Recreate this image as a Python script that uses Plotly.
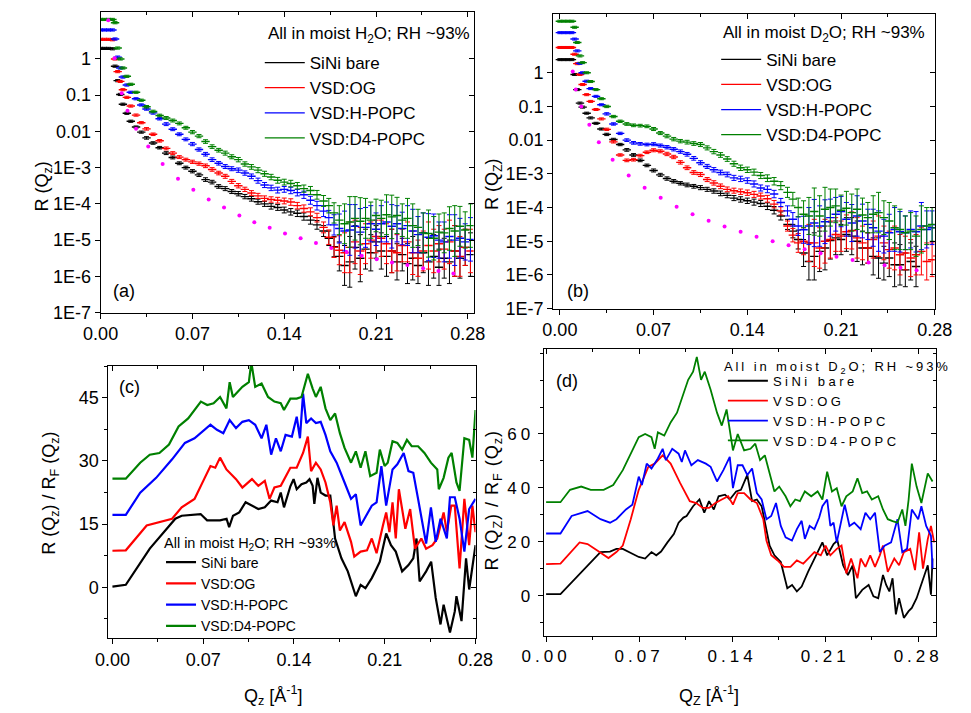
import plotly.graph_objects as go

# ---------------- DATA ----------------
SERIES = ["SiNi bare", "VSD:OG", "VSD:H-POPC", "VSD:D4-POPC"]
COLORS = ["#000000", "#ff0000", "#0000ff", "#008000"]

# Reflectivity grid (A^-1) shared by panels (a) and (b)
Q_R = [0.000, 0.003, 0.006, 0.009,
       0.011, 0.013, 0.015, 0.017, 0.020, 0.023, 0.027, 0.031, 0.035,
       0.040, 0.045, 0.050, 0.055, 0.060, 0.065, 0.070, 0.075, 0.080, 0.085, 0.090, 0.095, 0.100,
       0.105, 0.110, 0.115, 0.120, 0.125, 0.130, 0.135, 0.140, 0.145, 0.150, 0.155, 0.160, 0.165,
       0.170, 0.174, 0.178, 0.182, 0.186,
       0.190, 0.194, 0.198, 0.202, 0.206, 0.210, 0.214, 0.218, 0.222, 0.226, 0.230, 0.234,
       0.238, 0.242, 0.246, 0.250, 0.254, 0.258, 0.262, 0.266, 0.270, 0.274, 0.278, 0.282]

# error half-width in decades
ERR_R = [0.03, 0.03, 0.03, 0.03,
         0.03, 0.03, 0.03, 0.03, 0.03, 0.03, 0.03, 0.03, 0.035,
         0.035, 0.035, 0.04, 0.04, 0.04, 0.04, 0.045, 0.045, 0.05, 0.05, 0.05, 0.055, 0.055,
         0.06, 0.06, 0.065, 0.07, 0.07, 0.075, 0.08, 0.08, 0.09, 0.09, 0.1, 0.11, 0.12,
         0.15, 0.2, 0.28, 0.4, 0.55,
         0.7, 0.6, 0.65, 0.55, 0.5, 0.45, 0.5, 0.55, 0.6, 0.5, 0.45, 0.55,
         0.6, 0.5, 0.55, 0.65, 0.6, 0.5, 0.55, 0.6, 0.7, 0.55, 0.5, 0.6]

# panel (a): log10 R, moist H2O
LOG_A_BARE = [0.29, 0.29, 0.29, 0.28,
              -0.2, -0.6, -0.98, -1.25, -1.5, -1.72, -1.88, -2.02, -2.18,
              -2.32, -2.45, -2.6, -2.72, -2.88, -3.0, -3.1, -3.2, -3.33, -3.4, -3.52, -3.58, -3.66,
              -3.72, -3.8, -3.86, -3.94, -4.0, -4.07, -4.1, -4.17, -4.22, -4.26, -4.35, -4.45, -4.58,
              -4.75, -4.95, -5.18, -5.45, -5.7,
              -5.6, -5.2, -5.5, -5.25, -5.35, -5.05, -5.3, -5.45, -5.3, -5.6, -5.4, -5.65,
              -5.5, -5.7, -5.35, -5.6, -5.45, -5.75, -5.5, -5.6, -5.3, -5.5, -5.2, -5.4]
LOG_A_OG = [0.54, 0.54, 0.54, 0.53,
            0.0, -0.35, -0.62, -0.85, -1.06, -1.3, -1.55, -1.76, -1.93,
            -2.08, -2.26, -2.47, -2.6, -2.71, -2.78, -2.84, -2.89, -2.95, -3.05, -3.15, -3.24, -3.38,
            -3.5, -3.6, -3.7, -3.78, -3.85, -3.88, -3.9, -3.92, -3.95, -4.05, -4.13, -4.22, -4.38,
            -4.65, -4.92, -5.2, -5.28, -5.35,
            -5.2, -5.05, -5.3, -5.1, -5.0, -4.9, -4.95, -5.1, -5.3, -5.35, -5.15, -5.05,
            -5.35, -5.5, -5.3, -5.15, -5.3, -5.1, -5.25, -5.05, -5.3, -5.45, -5.2, -5.3]
LOG_A_H = [0.8, 0.8, 0.8, 0.8,
           0.55, 0.05, -0.25, -0.5, -0.72, -0.92, -1.1, -1.27, -1.38,
           -1.49, -1.65, -1.8, -1.94, -2.08, -2.22, -2.35, -2.5, -2.63, -2.78, -2.88, -2.97, -3.03,
           -3.07, -3.15, -3.24, -3.36, -3.48, -3.56, -3.62, -3.6, -3.63, -3.69, -3.75, -3.9, -4.05,
           -4.2, -4.38, -4.58, -4.68, -4.75,
           -4.72, -4.62, -4.78, -4.65, -4.55, -4.7, -4.55, -4.5, -4.62, -4.55, -4.68, -4.6,
           -4.75, -4.85, -4.8, -4.92, -4.88, -5.0, -5.05, -4.9, -5.0, -4.95, -5.05, -4.98]
LOG_A_D4 = [1.09, 1.09, 1.09, 1.09,
            1.0, 0.3, 0.0, -0.25, -0.48, -0.7, -0.92, -1.14, -1.32,
            -1.45, -1.56, -1.63, -1.7, -1.78, -1.9, -2.02, -2.13, -2.28, -2.42, -2.52, -2.6, -2.7,
            -2.78, -2.9, -2.98, -3.07, -3.17, -3.26, -3.35, -3.4, -3.44, -3.5, -3.58, -3.63, -3.75,
            -3.92, -4.05, -4.25, -4.45, -4.55,
            -4.5, -4.4, -4.48, -4.4, -4.45, -4.32, -4.4, -4.3, -4.36, -4.32, -4.45, -4.4,
            -4.6, -4.65, -4.8, -4.82, -4.95, -4.78, -4.8, -4.68, -4.75, -4.62, -4.72, -4.6]

# panel (b): log10 R, moist D2O
LOG_B_BARE = [0.39, 0.39, 0.39, 0.39,
              -0.05, -0.5, -0.9, -1.02, -1.2, -1.34, -1.5, -1.67, -1.83,
              -1.98, -2.13, -2.29, -2.44, -2.6, -2.75, -2.9, -3.03, -3.14, -3.22, -3.28, -3.33, -3.37,
              -3.41, -3.46, -3.51, -3.58, -3.64, -3.72, -3.76, -3.8, -3.84, -3.88, -3.96, -4.08, -4.25,
              -4.5, -4.7, -4.95, -5.35, -5.6,
              -5.45, -5.3, -5.2, -4.98, -4.9, -4.95, -4.8, -4.85, -5.0, -5.2, -5.2, -5.45,
              -5.5, -5.65, -5.5, -5.7, -5.7, -5.85, -5.6, -5.75, None, None, None, None]
LOG_B_OG = [0.75, 0.75, 0.75, 0.75,
            0.55, 0.27, -0.05, -0.35, -0.65, -0.85, -1.09, -1.37, -1.68,
            -2.05, -2.44, -2.6, -2.58, -2.46, -2.36, -2.3, -2.33, -2.41, -2.5, -2.66, -2.82, -2.96,
            -3.02, -3.17, -3.27, -3.37, -3.46, -3.5, -3.53, -3.56, -3.61, -3.66, -3.74, -3.9, -4.1,
            -4.55, -4.82, -5.05, -5.0, -5.05,
            -5.05, -5.2, -5.0, -4.95, -4.8, -4.85, -4.72, -4.68, -4.9, -5.05, -5.2, -4.95,
            -4.85, -5.05, -5.25, -5.2, -5.4, -5.35, -5.5, -5.4, -5.3, -5.6, -5.55, -5.44]
LOG_B_H = [1.19, 1.19, 1.19, 1.19,
           1.0, 0.65, 0.28, 0.0, -0.25, -0.47, -0.7, -0.95, -1.22,
           -1.52, -1.8, -2.0, -2.08, -2.11, -2.13, -2.12, -2.16, -2.21, -2.27, -2.34, -2.42, -2.54,
           -2.67, -2.78, -2.88, -2.96, -3.02, -3.12, -3.15, -3.2, -3.3, -3.42, -3.46, -3.6, -3.85,
           -4.1, -4.35, -4.55, -4.66, -4.55,
           -4.46, -4.55, -4.42, -4.3, -4.2, -4.12, -4.35, -4.46, -4.25, -4.4, -4.5, -4.6,
           -4.7, -4.85, -4.75, -4.65, -4.72, -4.75, -4.65, -4.72, -4.55, -4.65, -4.6, -4.51]
LOG_B_D4 = [1.53, 1.53, 1.53, 1.53,
            1.35, 0.9, 0.5, 0.3, 0.0, -0.26, -0.5, -0.77, -1.0,
            -1.3, -1.44, -1.52, -1.56, -1.57, -1.59, -1.67, -1.79, -1.88, -1.97, -2.03, -2.06, -2.1,
            -2.13, -2.23, -2.34, -2.44, -2.56, -2.7, -2.82, -2.88, -2.95, -3.05, -3.13, -3.22, -3.35,
            -3.55, -3.75, -4.0, -4.2, -4.25,
            -4.12, -4.25, -4.05, -4.0, -3.95, -4.08, -4.02, -4.15, -4.05, -4.22, -4.3, -4.2,
            -4.15, -4.3, -4.4, -4.6, -4.65, -4.75, -4.7, -4.85, -4.65, -4.55, -4.5, -4.6]

# Fresnel reflectivity (magenta dots)
Q_FA = [0.0058, 0.0107, 0.0161, 0.0205, 0.027, 0.0363, 0.0473, 0.059, 0.0707, 0.0824, 0.0941,
        0.1058, 0.1172, 0.1289, 0.1406, 0.1525, 0.1642, 0.1759, 0.1876, 0.1991, 0.2105, 0.2222,
        0.2339, 0.2459, 0.2576, 0.269]
LOG_FA = [1.07, 0.02, -0.95, -1.43, -1.93, -2.42, -2.9, -3.31, -3.61, -3.88, -4.1,
          -4.32, -4.51, -4.66, -4.82, -4.95, -5.08, -5.22, -5.33, -5.43, -5.53, -5.62,
          -5.69, -5.78, -5.85, -5.92]
Q_FB = [0.0096, 0.0119, 0.016, 0.022, 0.0291, 0.0394, 0.0514, 0.0633, 0.0753, 0.0872, 0.0991,
        0.1111, 0.123, 0.135, 0.1469, 0.1589, 0.1708, 0.1828, 0.1947, 0.2066, 0.2186, 0.2305,
        0.2425, 0.2544, 0.2664]
LOG_FB = [0.04, -0.5, -1.0, -1.54, -2.06, -2.58, -3.05, -3.41, -3.71, -3.98, -4.2,
          -4.39, -4.56, -4.72, -4.87, -5.0, -5.12, -5.24, -5.36, -5.46, -5.56, -5.63,
          -5.71, -5.79, -5.86]

# panel (c): R/RF, moist H2O (offset curves)
QC_BARE = [0, 0.0103, 0.0288, 0.0485, 0.0534, 0.068, 0.073, 0.083, 0.088, 0.090, 0.093, 0.0978,
           0.1027, 0.1076, 0.1125, 0.1175, 0.1224, 0.1273, 0.1298, 0.1323, 0.1372, 0.1397, 0.1421,
           0.1458, 0.1495, 0.152, 0.1544, 0.1557, 0.1581, 0.1606, 0.1643, 0.168, 0.1717, 0.1766,
           0.1815, 0.1877, 0.1914, 0.1951, 0.2, 0.2037, 0.2062, 0.2111, 0.2148, 0.2185, 0.2234,
           0.2283, 0.232, 0.2345, 0.2369, 0.2419, 0.2458, 0.2493, 0.253, 0.2554, 0.2603, 0.264,
           0.2653, 0.2692, 0.2727, 0.2751, 0.28]
C_BARE = [0.2, 0.6, 9.2, 16.3, 17, 17.4, 15.9, 15.9, 16.3, 14.3, 17.0, 17.8,
          20.2, 19.4, 18.6, 19.0, 20.6, 20.2, 22.5, 19.0, 24, 25.7, 23.3,
          24.5, 24.9, 25.7, 24.1, 19.8, 26, 22.5, 21.8, 21.8, 11.6, 6.9,
          3.8, -2.1, 0.6, -0.2, 2.2, 4.5, 6.1, 12.8, 10.0, 8.5, 3.8,
          5.3, 6.9, 11.6, 1.4, 3.8, 6.1, -2.5, -8.8, -4.1, -10.7, -5.7,
          -2.1, -8.0, 6.9, -0.5, 10]
QC_OG = [0, 0.0103, 0.0264, 0.0362, 0.046, 0.0534, 0.0633, 0.0707, 0.0756, 0.0793, 0.083, 0.0879,
         0.0953, 0.1002, 0.1076, 0.1125, 0.1175, 0.1212, 0.1249, 0.1298, 0.1372, 0.1421, 0.147,
         0.1507, 0.1532, 0.1569, 0.1606, 0.1643, 0.168, 0.1704, 0.1729, 0.1754, 0.179, 0.184,
         0.1865, 0.1914, 0.1963, 0.2, 0.2037, 0.2086, 0.2111, 0.2136, 0.216, 0.2185, 0.2209,
         0.2259, 0.2296, 0.2333, 0.2382, 0.2419, 0.2468, 0.2505, 0.2554, 0.2579, 0.2613, 0.264,
         0.2677, 0.2714, 0.2751, 0.2776, 0.28]
C_OG = [8.7, 8.8, 14.7, 15.5, 16.3, 19, 21, 25.7, 28.8, 28.4, 30.8, 28,
        25.7, 23.7, 25.7, 24.1, 25.3, 21, 23.7, 24.1, 28.4, 28.4, 31.9,
        35.8, 27.6, 29.6, 28, 24.9, 20.2, 14.7, 19.4, 13.5, 15.5, 10.8,
        7.3, 8.5, 8.8, 11.6, 8.1, 14.7, 17.8, 13.1, 20.2, 11.6, 23.3,
        13.9, 18.6, 9.2, 11.6, 9.2, 10.0, 11.6, 17.8, 13.1, 19.4, 19.4,
        4.5, 21, 10, 19.4, 13.1]
QC_H = [0, 0.0103, 0.0214, 0.0337, 0.046, 0.0559, 0.0633, 0.0707, 0.0756, 0.0806, 0.0855, 0.0904,
        0.0953, 0.1002, 0.1052, 0.1101, 0.115, 0.1187, 0.1224, 0.1261, 0.1298, 0.1335, 0.1384,
        0.1421, 0.1446, 0.147, 0.1495, 0.1532, 0.1569, 0.1606, 0.1643, 0.168, 0.1729, 0.179,
        0.184, 0.1877, 0.1914, 0.1951, 0.2, 0.2037, 0.2074, 0.2111, 0.216, 0.2197, 0.2246,
        0.2283, 0.232, 0.2357, 0.2394, 0.2419, 0.2456, 0.2493, 0.253, 0.2579, 0.2603, 0.264,
        0.2677, 0.2714, 0.2751, 0.28]
C_H = [17.2, 17.2, 22.5, 26, 30.4, 34.3, 35.4, 37.4, 38.6, 37.4, 36.6, 39.7,
       37.8, 39.3, 39.7, 38.6, 35.4, 38.6, 31.5, 35.4, 32.3, 36.2, 35.8,
       40.5, 35.4, 46, 39, 40.1, 39, 39.3, 36.2, 32.3, 29.6, 24.9,
       21, 22.1, 14.7, 16.7, 19.4, 20.2, 28.8, 19.4, 28, 29.2, 31.9,
       27.6, 27.2, 21, 14.7, 10.4, 19, 10.8, 16.3, 11.6, 21.4, 21.4,
       16.3, 8.5, 18.6, 21]
QC_D4 = [0, 0.0103, 0.0214, 0.0288, 0.0362, 0.0436, 0.051, 0.0584, 0.0682, 0.0731, 0.078, 0.083,
         0.0879, 0.0904, 0.0929, 0.1002, 0.1052, 0.1071, 0.1101, 0.115, 0.12, 0.1249, 0.1298,
         0.1323, 0.1372, 0.1421, 0.1458, 0.1507, 0.1544, 0.1569, 0.1606, 0.1643, 0.168, 0.1717,
         0.1754, 0.179, 0.184, 0.1877, 0.1914, 0.1951, 0.1988, 0.2037, 0.2062, 0.2099, 0.2123,
         0.216, 0.2197, 0.2234, 0.2271, 0.2308, 0.2357, 0.2406, 0.2456, 0.2505, 0.2517, 0.2554,
         0.2591, 0.2616, 0.2653, 0.2677, 0.2714, 0.2751, 0.2776, 0.28]
C_D4 = [25.8, 25.8, 29.6, 31.5, 31.9, 33.9, 38.2, 40.1, 44.1, 43.3, 43.7, 45.2,
        42.5, 48.7, 45.2, 47.6, 48.7, 53.4, 47.6, 48.4, 45.2, 44.1, 43.7,
        42.1, 44.8, 44.8, 45.2, 50.7, 47.2, 45.2, 47.6, 42.5, 39.7, 41.3,
        36.6, 33.1, 29.6, 32.3, 28.4, 32.3, 26.4, 27.2, 32.7, 28.8, 29.6,
        34.7, 34.3, 32.7, 35, 33.5, 33.5, 31.9, 29.6, 28, 23.3, 26,
        30.8, 31.9, 24.9, 22.9, 35.4, 35, 30.8, 42.1]

# panel (d): R/RF, moist D2O (offset curves)
QD_BARE = [0, 0.0108, 0.0409, 0.0481, 0.0529, 0.0577, 0.0649, 0.0697, 0.0745, 0.0793, 0.0829,
           0.0865, 0.0913, 0.0961, 0.0997, 0.1033, 0.1057, 0.1106, 0.1154, 0.119, 0.1226, 0.1262,
           0.1298, 0.1346, 0.1382, 0.143, 0.1466, 0.1514, 0.155, 0.1586, 0.1622, 0.1646, 0.1682,
           0.1718, 0.1766, 0.1815, 0.1851, 0.1887, 0.1923, 0.1971, 0.2019, 0.2079, 0.2115, 0.2163,
           0.2192, 0.2235, 0.2271, 0.2307, 0.2331, 0.2379, 0.2427, 0.2463, 0.2499, 0.2535, 0.2559,
           0.2583, 0.2607, 0.2632, 0.2656, 0.2692, 0.2728, 0.2752, 0.2788, 0.2824, 0.2872, 0.2896,
           0.2908]
D_BARE = [0.6, 0.6, 16.2, 16.4, 17.4, 17.4, 15.6, 14.4, 13.8, 16.2, 15.0,
          16.4, 19.8, 22.9, 27.1, 29, 29.6, 33.2, 35.7, 30.8, 35.1, 32,
          36.9, 37.5, 35.7, 38.7, 39.3, 44.8, 35.1, 35.7, 33.2, 27.1, 18.6,
          15, 12.5, 2.8, 4.0, 1.6, 3.4, 8.9, 13.8, 19.8, 15, 19.2,
          20.5, 11.3, 7.7, 11.3, -0.9, 2.2, 4, -0.2, -0.9, 7.7, 4.0,
          1.6, 6.5, -6.9, -0.9, -8.2, -5.7, -4.5, -0.9, 4.0, 11.3, 0.4,
          13.8]
QD_OG = [0, 0.0108, 0.0252, 0.0312, 0.0385, 0.0469, 0.0529, 0.0577, 0.0637, 0.0697, 0.0769,
         0.0817, 0.0877, 0.0937, 0.1009, 0.1081, 0.113, 0.1178, 0.1226, 0.1274, 0.1322, 0.137,
         0.1406, 0.1442, 0.149, 0.1538, 0.1586, 0.1634, 0.1658, 0.1694, 0.1742, 0.179, 0.1839,
         0.1887, 0.1935, 0.1971, 0.2019, 0.2067, 0.2103, 0.2139, 0.2187, 0.2223, 0.2259, 0.2295,
         0.2343, 0.2367, 0.2403, 0.2439, 0.2475, 0.2511, 0.2535, 0.2571, 0.262, 0.2656, 0.2692,
         0.274, 0.2776, 0.2807, 0.2836, 0.2872, 0.2896, 0.292]
D_OG = [11.7, 11.9, 19.8, 19.2, 16.8, 14, 16.2, 18.6, 28.4, 39.3, 47.8,
        49, 52.1, 49, 41.8, 35.1, 34.4, 32.6, 32.6, 34.4, 35.7, 36.9,
        33.8, 38.1, 38.1, 35.7, 34.4, 28.4, 20.5, 15, 13.1, 10.7, 10.7,
        13.1, 11.9, 13.8, 16.2, 15.0, 18.6, 15.0, 17.4, 18.6, 8.3, 13.8,
        6.5, 13.8, 10.7, 15, 10.7, 15, 18.6, 8.9, 13.8, 11.3, 16.2,
        17.4, 9.5, 23.5, 10.1, 21, 25.9, 19.8]
QD_H = [0, 0.0108, 0.0192, 0.0312, 0.0409, 0.0481, 0.0529, 0.0601, 0.0649, 0.0697, 0.0721,
        0.0757, 0.0793, 0.0841, 0.0877, 0.0901, 0.0949, 0.0997, 0.1021, 0.1045, 0.1093, 0.1142,
        0.1202, 0.1238, 0.1286, 0.1334, 0.1382, 0.1406, 0.1442, 0.1478, 0.1514, 0.155, 0.1586,
        0.1622, 0.1658, 0.1694, 0.173, 0.1766, 0.1802, 0.185, 0.1887, 0.1923, 0.1947, 0.1983,
        0.2019, 0.2055, 0.2079, 0.2115, 0.2139, 0.2163, 0.2187, 0.2223, 0.2247, 0.2283, 0.2319,
        0.2367, 0.2403, 0.2439, 0.2475, 0.2511, 0.2547, 0.2596, 0.2644, 0.268, 0.2716, 0.2752,
        0.28, 0.2824, 0.286, 0.2896, 0.2908]
D_H = [23.1, 23.1, 29.6, 31.4, 28.4, 27.1, 28.4, 32, 33.8, 44.2, 41.1,
       49, 47.2, 50.9, 54.5, 50.3, 54.5, 52.7, 49.6, 53.9, 48.4, 50.3,
       49, 47.8, 42.4, 46.6, 51.5, 39.9, 48.4, 48.4, 44.8, 47.2, 38.1,
       35.7, 28.4, 29.6, 34.4, 25.9, 21.7, 20.5, 24.7, 27.8, 21.1, 25.9,
       24.7, 29.0, 33.2, 35.7, 25.9, 27.1, 19.8, 28.4, 33.8, 25.9, 27.1,
       24.7, 30.8, 28.4, 30.8, 16.2, 18.6, 19.8, 28.4, 16.2, 17.4, 32,
       28.4, 33.2, 25.9, 22.3, 10.1]
QD_D4 = [0, 0.0108, 0.018, 0.0264, 0.0336, 0.0433, 0.0505, 0.0577, 0.0649, 0.0697, 0.0745,
         0.0793, 0.0817, 0.0841, 0.0889, 0.0937, 0.0985, 0.1033, 0.1069, 0.1106, 0.1134, 0.1166,
         0.1194, 0.1238, 0.1286, 0.1322, 0.1358, 0.1406, 0.1442, 0.149, 0.1538, 0.1574, 0.161,
         0.1646, 0.1682, 0.1718, 0.1754, 0.1802, 0.1838, 0.1875, 0.191, 0.1947, 0.1995, 0.2043,
         0.2079, 0.2115, 0.2151, 0.2187, 0.2223, 0.2259, 0.2307, 0.2343, 0.2379, 0.2415, 0.2451,
         0.2499, 0.2535, 0.2571, 0.2607, 0.2644, 0.268, 0.2704, 0.2728, 0.2752, 0.2788, 0.2824,
         0.2872, 0.2908]
D_D4 = [34.7, 34.7, 39.3, 40.5, 39.3, 39.3, 41.1, 46.6, 53.9, 58.8, 60,
        58.8, 54.5, 60.6, 59.4, 64.3, 67.9, 74.6, 80.1, 83.1, 88.6, 80.1,
        83.1, 76.4, 67.9, 63.1, 69.1, 53.9, 60, 53.9, 54.5, 56.4, 50.3,
        52.1, 45.4, 38.7, 40.5, 36.9, 33.2, 35.7, 35.1, 38.7, 36.9, 38.7,
        35.7, 46, 38.7, 39.9, 33.2, 36.9, 38.7, 43.6, 38.1, 38.7, 35.7,
        36.9, 32, 28.4, 27.7, 27.1, 32, 25.9, 35.7, 49, 40.5, 34.4,
        45.4, 42.4]

# tick labels
X_TICKS = [0.0, 0.07, 0.14, 0.21, 0.28]
X_TICKTEXT = ["0.00", "0.07", "0.14", "0.21", "0.28"]
LOG_TICKS = [1e-7, 1e-6, 1e-5, 1e-4, 1e-3, 1e-2, 1e-1, 1]
LOG_TICKTEXT = ["1E-7", "1E-6", "1E-5", "1E-4", "1E-3", "0.01", "0.1", "1"]
C_TICKS = [0, 15, 30, 45]
D_TICKS = [0, 20, 40, 60]

# ---------------- FIGURE ----------------
FONT = "Liberation Sans, Arial, sans-serif"
W, H = 971, 713


def dx(a, b):
    return [a / W, b / W]


def dy(top, bottom):
    return [1 - bottom / H, 1 - top / H]


def sp(txt, s):
    return '<span style="letter-spacing:%spx">%s</span>' % (s, txt)


fig = go.Figure()


def lin(vals):
    return [None if v is None else 10 ** v for v in vals]


def errs(vals, err):
    plus, minus = [], []
    for v, e in zip(vals, err):
        if v is None:
            plus.append(None); minus.append(None)
        else:
            r = 10 ** v
            plus.append(r * (10 ** e - 1)); minus.append(r * (1 - 10 ** (-e)))
    return plus, minus


# panels (a) and (b)
for (xa, ya, leg, logs, qf, logf) in [
        ("x", "y", "legend", [LOG_A_BARE, LOG_A_OG, LOG_A_H, LOG_A_D4], Q_FA, LOG_FA),
        ("x2", "y2", "legend2", [LOG_B_BARE, LOG_B_OG, LOG_B_H, LOG_B_D4], Q_FB, LOG_FB)]:
    for name, col, lv in zip(SERIES, COLORS, logs):
        p, m = errs(lv, ERR_R)
        fig.add_trace(go.Scatter(
            x=Q_R, y=lin(lv), mode="markers", xaxis=xa, yaxis=ya, showlegend=False,
            marker=dict(symbol="line-ew", size=6, color=col, line=dict(color=col, width=1.4)),
            error_y=dict(type="data", array=p, arrayminus=m, symmetric=False,
                         color=col, thickness=1, width=2.5)))
    fig.add_trace(go.Scatter(x=qf, y=lin(logf), mode="markers", xaxis=xa, yaxis=ya,
                             showlegend=False, marker=dict(color="#ff00ff", size=4)))
    for name, col in zip(SERIES, COLORS):
        fig.add_trace(go.Scatter(x=[None], y=[None], mode="lines", xaxis=xa, yaxis=ya,
                                 name=name, legend=leg, line=dict(color=col, width=1.2)))

# panel (c)
for name, col, q, v in zip(SERIES, COLORS, [QC_BARE, QC_OG, QC_H, QC_D4], [C_BARE, C_OG, C_H, C_D4]):
    fig.add_trace(go.Scatter(x=q, y=v, mode="lines", xaxis="x3", yaxis="y3", name=name,
                             legend="legend3", line=dict(color=col, width=2.2)))

# panel (d)
for name, col, q, v in zip(SERIES, COLORS, [QD_BARE, QD_OG, QD_H, QD_D4], [D_BARE, D_OG, D_H, D_D4]):
    fig.add_trace(go.Scatter(x=q, y=v, mode="lines", xaxis="x4", yaxis="y4", name=sp(name, 3.5),
                             legend="legend4", line=dict(color=col, width=1.8)))

TF = dict(family=FONT, size=18, color="black")


def axis(domain, rng, anchor, **kw):
    d = dict(domain=domain, range=rng, anchor=anchor, showline=True, linecolor="black",
             linewidth=1, mirror=True, ticks="outside", ticklen=5, tickcolor="black",
             showgrid=False, zeroline=False, tickfont=TF)
    d.update(kw)
    return d


def overlay(over, side, anchor, rng, **kw):
    d = dict(overlaying=over, side=side, anchor=anchor, range=rng, showticklabels=False,
             ticks="inside", ticklen=5, tickcolor="black", showgrid=False, zeroline=False,
             showline=False)
    d.update(kw)
    return d


XMIN = dict(ticks="outside", ticklen=3, dtick=0.035, tick0=0, tickcolor="black")
XMIN_IN = dict(ticks="inside", ticklen=3, dtick=0.035, tick0=0, tickcolor="black")

rng = {
    "x": [0, 0.2844], "y": [-7, 1.3],
    "x2": [-0.005, 0.28], "y2": [-7, 1.75],
    "x3": [-0.0032, 0.28], "y3": [-12, 52.6],
    "x4": [-0.0019, 0.2932], "y4": [-14.9, 91.5],
}

D_XTEXT = [sp(t, 4) for t in X_TICKTEXT]
D_YTEXT = [sp(str(t), 4) for t in D_TICKS]
TF_D = dict(family=FONT, size=17, color="black")

layout = dict(
    xaxis=axis(dx(82, 471), rng["x"], "y", tickvals=X_TICKS, ticktext=X_TICKTEXT, minor=XMIN),
    yaxis=axis(dy(12, 317), rng["y"], "x", type="log", tickvals=LOG_TICKS, ticktext=LOG_TICKTEXT),
    xaxis2=axis(dx(554, 952), rng["x2"], "y2", tickvals=X_TICKS, ticktext=X_TICKTEXT, minor=XMIN),
    yaxis2=axis(dy(14, 313), rng["y2"], "x2", type="log", tickvals=LOG_TICKS, ticktext=LOG_TICKTEXT),
    xaxis3=axis(dx(90, 473), rng["x3"], "y3", tickvals=X_TICKS, ticktext=X_TICKTEXT, minor=XMIN),
    yaxis3=axis(dy(371, 647), rng["y3"], "x3", tickvals=C_TICKS,
                minor=dict(ticks="outside", ticklen=3, dtick=7.5, tick0=0, tickcolor="black")),
    xaxis4=axis(dx(544, 953), rng["x4"], "y4", tickvals=X_TICKS, ticktext=D_XTEXT, minor=XMIN,
                tickfont=TF_D),
    yaxis4=axis(dy(354, 645), rng["y4"], "x4", tickvals=D_TICKS, ticktext=D_YTEXT, tickfont=TF_D,
                minor=dict(ticks="outside", ticklen=3, dtick=10, tick0=0, tickcolor="black")),
    # mirrored inside ticks (top / right)
    xaxis5=overlay("x", "top", "y", rng["x"], tickvals=X_TICKS, minor=XMIN_IN),
    xaxis6=overlay("x2", "top", "y2", rng["x2"], tickvals=X_TICKS, minor=XMIN_IN),
    xaxis7=overlay("x3", "top", "y3", rng["x3"], tickvals=X_TICKS, minor=XMIN_IN),
    xaxis8=overlay("x4", "top", "y4", rng["x4"], tickvals=X_TICKS, minor=XMIN_IN),
    yaxis5=overlay("y", "right", "x", rng["y"], type="log", tickvals=LOG_TICKS),
    yaxis6=overlay("y2", "right", "x2", rng["y2"], type="log", tickvals=LOG_TICKS),
    yaxis7=overlay("y3", "right", "x3", rng["y3"], tickvals=C_TICKS,
                   minor=dict(ticks="inside", ticklen=3, dtick=7.5, tick0=0, tickcolor="black")),
    yaxis8=overlay("y4", "right", "x4", rng["y4"], tickvals=D_TICKS,
                   minor=dict(ticks="inside", ticklen=3, dtick=10, tick0=0, tickcolor="black")),
)

# dummy traces so overlay axes are drawn
for xa, ya in [("x5", "y"), ("x6", "y2"), ("x7", "y3"), ("x8", "y4"),
               ("x", "y5"), ("x2", "y6"), ("x3", "y7"), ("x4", "y8")]:
    fig.add_trace(go.Scatter(x=[None], y=[None], xaxis=xa, yaxis=ya, showlegend=False,
                             hoverinfo="skip"))


def legend(x, y, size, iw):
    return dict(x=x / W, y=1 - y / H, xanchor="left", yanchor="top",
                bgcolor="rgba(0,0,0,0)", borderwidth=0, itemwidth=iw,
                font=dict(family=FONT, size=size, color="black"), tracegroupgap=0)


layout["legend"] = legend(248, 45.7, 17, 40)
layout["legend2"] = legend(724, 42.4, 17, 40)
layout["legend3"] = legend(145, 554.4, 14, 30)
layout["legend4"] = legend(731, 371, 13, 40)

ann = []


def txt(x, y, s, angle=0, size=18, anchor="center"):
    ann.append(dict(x=x / W, y=1 - y / H, xref="paper", yref="paper", text=s, showarrow=False,
                    textangle=angle, xanchor=anchor, yanchor="middle",
                    font=dict(family=FONT, size=size, color="black")))


# legend titles
txt(254, 35, "All in moist H<sub>2</sub>O; RH ~93%", size=17, anchor="left")
txt(729, 34, "All in moist D<sub>2</sub>O; RH ~93%", size=17, anchor="left")
txt(146, 552, "All in moist H<sub>2</sub>O; RH ~93%", size=14.5, anchor="left")
txt(730, 373, sp("All in moist D<sub>2</sub>O; RH ~93%", 2.9), size=13, anchor="left")

# panel tags and axis titles
txt(106, 295, "(a)")
txt(580, 295, "(b)")
txt(112, 393, "(c)")
txt(568, 386, "(d)")
txt(22, 189, "R (Q<sub>z</sub>)", -90)
txt(492, 187, "R (Q<sub>Z</sub>)", -90)
txt(30, 500, "R (Q<sub>z</sub>) / R<sub>F</sub> (Q<sub>z</sub>)", -90)
txt(492, 507, sp("R (Q<sub>Z</sub>) / R<sub>F</sub> (Q<sub>z</sub>)", 1), -90)
txt(262, 705, "Q<sub>z</sub> [Å<sup>-1</sup>]")
txt(717, 705, "Q<sub>Z</sub> [Å<sup>-1</sup>]")

layout.update(dict(width=W, height=H, margin=dict(l=0, r=0, t=0, b=0),
                   paper_bgcolor="white", plot_bgcolor="white", annotations=ann,
                   font=dict(family=FONT, color="black")))
fig.update_layout(**layout)
fig.write_html("out.html")
